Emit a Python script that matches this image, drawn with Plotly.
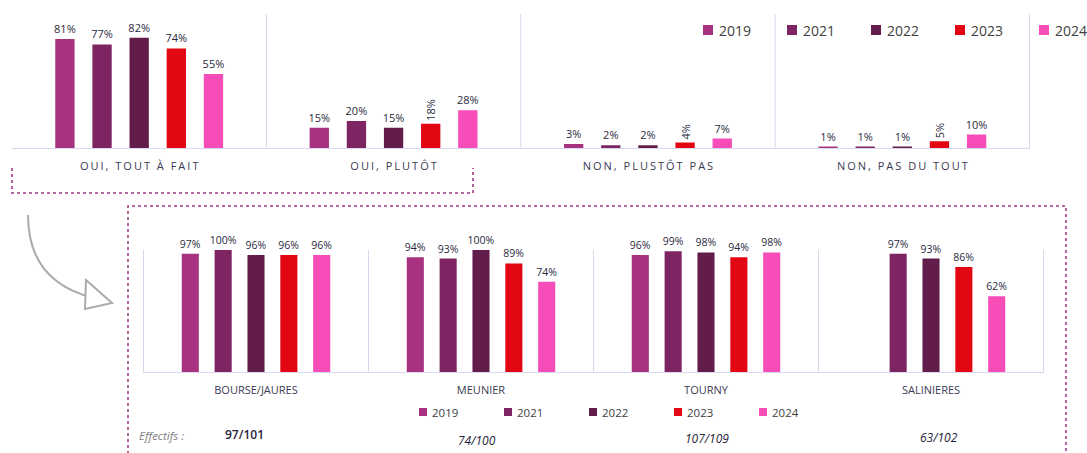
import plotly.graph_objects as go

W, H = 1087, 453

# ---------------- data ----------------
years = ["2019", "2021", "2022", "2023", "2024"]
colors = ["#A8327F", "#7E2462", "#621D4B", "#E30613", "#F64DB8"]

top_categories = ["OUI, TOUT À FAIT", "OUI, PLUTÔT", "NON, PLUSTÔT PAS", "NON, PAS DU TOUT"]
top_2019 = [81, 15, 3, 1]
top_2021 = [77, 20, 2, 1]
top_2022 = [82, 15, 2, 1]
top_2023 = [74, 18, 4, 5]
top_2024 = [55, 28, 7, 10]
top_values = [top_2019, top_2021, top_2022, top_2023, top_2024]
# labels drawn vertically in the original (only some 2023 labels)
top_2023_vertical = [False, True, True, True]

bottom_categories = ["BOURSE/JAURES", "MEUNIER", "TOURNY", "SALINIERES"]
bot_2019 = [97, 94, 96, None]
bot_2021 = [100, 93, 99, 97]
bot_2022 = [96, 100, 98, 93]
bot_2023 = [96, 89, 94, 86]
bot_2024 = [96, 74, 98, 62]
bottom_values = [bot_2019, bot_2021, bot_2022, bot_2023, bot_2024]

effectifs_label = "Effectifs :"
effectifs = ["97/101", "74/100", "107/109", "63/102"]

# ---------------- helpers ----------------
def px(x):
    return x / W


def py(y):
    return 1 - y / H


FONT = "Open Sans"
LABEL_COLOR = "#2A2A40"

fig = go.Figure()

# ---------------- top chart ----------------
for name, col, vals in zip(years, colors, top_values):
    if name == "2023":
        parts = [
            ([v if not r else None for v, r in zip(vals, top_2023_vertical)], 0),
            ([v if r else None for v, r in zip(vals, top_2023_vertical)], -90),
        ]
    else:
        parts = [(vals, 0)]
    for pv, ang in parts:
        fig.add_trace(go.Bar(
            x=top_categories, y=pv, name=name, offsetgroup=name,
            marker=dict(color=col, line=dict(width=0)),
            texttemplate="%{y}%", textposition="outside", textangle=ang,
            textfont=dict(size=11, color=LABEL_COLOR, family=FONT),
            constraintext="none", cliponaxis=False, showlegend=False,
            xaxis="x", yaxis="y",
        ))

# ---------------- bottom chart ----------------
for name, col, vals in zip(years, colors, bottom_values):
    fig.add_trace(go.Bar(
        x=bottom_categories, y=vals, name=name, offsetgroup=name,
        marker=dict(color=col, line=dict(width=0)),
        texttemplate="%{y}%", textposition="outside", textangle=0,
        textfont=dict(size=10.5, color=LABEL_COLOR, family=FONT),
        constraintext="none", cliponaxis=False, showlegend=False,
        xaxis="x2", yaxis="y2",
    ))

AXIS_LINE = "#D8D8EC"

shapes = []
# separators top
for i in range(len(top_categories)):
    shapes.append(dict(type="line", xref="x", yref="y", x0=i + 0.5, x1=i + 0.5, y0=0, y1=100,
                       line=dict(color=AXIS_LINE, width=1)))
# separators bottom
for i in range(-1, len(bottom_categories)):
    shapes.append(dict(type="line", xref="x2", yref="y2", x0=i + 0.5, x1=i + 0.5, y0=0, y1=100,
                       line=dict(color=AXIS_LINE, width=1)))

DOT = "#A23A86"
# dotted bracket under the first two top categories
shapes.append(dict(type="path", xref="paper", yref="paper",
                   path=f"M{px(12)},{py(168)} L{px(12)},{py(193)} L{px(473)},{py(193)} L{px(473)},{py(168)}",
                   line=dict(color=DOT, width=1.6, dash="dot")))
# dotted box around bottom chart
shapes.append(dict(type="path", xref="paper", yref="paper",
                   path=f"M{px(128)},{py(460)} L{px(128)},{py(206)} L{px(1066)},{py(206)} L{px(1066)},{py(452)}",
                   line=dict(color=DOT, width=1.6, dash="dot")))
# curved arrow
shapes.append(dict(type="path", xref="paper", yref="paper",
                   path=f"M{px(28)},{py(215)} Q{px(28)},{py(282)} {px(94)},{py(298)}",
                   line=dict(color="#ABABAB", width=2)))
shapes.append(dict(type="path", xref="paper", yref="paper",
                   path=f"M{px(86)},{py(280)} L{px(112)},{py(303)} L{px(85)},{py(309)} Z",
                   line=dict(color="#ABABAB", width=2), fillcolor="white"))

annotations = []
# manual legends
for i, (name, col) in enumerate(zip(years, colors)):
    x0 = 703 + 84 * i
    shapes.append(dict(type="rect", xref="paper", yref="paper",
                       x0=px(x0), x1=px(x0 + 10), y0=py(35), y1=py(25),
                       fillcolor=col, line=dict(width=0)))
    annotations.append(dict(xref="paper", yref="paper", x=px(x0 + 14), y=py(30),
                            xanchor="left", yanchor="middle", text=name, showarrow=False,
                            font=dict(size=14, color="#404040", family=FONT)))
    x1 = 419 + 85 * i
    shapes.append(dict(type="rect", xref="paper", yref="paper",
                       x0=px(x1), x1=px(x1 + 8), y0=py(416), y1=py(408),
                       fillcolor=col, line=dict(width=0)))
    annotations.append(dict(xref="paper", yref="paper", x=px(x1 + 11), y=py(412),
                            xanchor="left", yanchor="middle", text=name, showarrow=False,
                            font=dict(size=11.5, color="#404040", family=FONT)))

# effectifs row
annotations.append(dict(xref="paper", yref="paper", x=px(137), y=py(435), xanchor="left",
                        yanchor="middle", text=effectifs_label, showarrow=False,
                        font=dict(size=11.5, color="#7F7F7F", family=FONT, style="italic")))
eff_shift = [-12, -4, 1, 8]
eff_y = [434, 440, 438, 437]
for i, (cat, txt) in enumerate(zip(bottom_categories, effectifs)):
    annotations.append(dict(xref="x2", yref="paper", x=cat, y=py(eff_y[i]), xshift=eff_shift[i],
                            xanchor="center", yanchor="middle", text=txt, showarrow=False,
                            font=dict(size=12, color="#24243A", family=FONT,
                                      weight=600 if i == 0 else 400,
                                      style="normal" if i == 0 else "italic")))

fig.update_layout(
    width=W, height=H,
    margin=dict(l=0, r=0, t=0, b=0),
    paper_bgcolor="white", plot_bgcolor="white",
    barmode="group", bargap=0.27, bargroupgap=0.48,
    font=dict(family=FONT, color="#333344"),
    shapes=shapes, annotations=annotations,
    xaxis=dict(domain=[px(12), px(1030)], anchor="y", type="category",
               categoryorder="array", categoryarray=top_categories,
               showgrid=False, zeroline=False, showline=True, linecolor=AXIS_LINE, linewidth=1,
               ticks="", ticklabelstandoff=8,
               tickfont=dict(size=11, color="#3A3A52", family=FONT), fixedrange=True),
    yaxis=dict(domain=[py(148), py(13.5)], anchor="x", range=[0, 100], visible=False, fixedrange=True),
    xaxis2=dict(domain=[px(143), px(1044)], anchor="y2", type="category",
                categoryorder="array", categoryarray=bottom_categories,
                showgrid=False, zeroline=False, showline=True, linecolor=AXIS_LINE, linewidth=1,
                ticks="", ticklabelstandoff=8,
                tickfont=dict(size=11, color="#3A3A52", family=FONT), fixedrange=True),
    yaxis2=dict(domain=[py(372), py(250)], anchor="x2", range=[0, 100], visible=False, fixedrange=True),
)

post = (
    "document.body.style.margin='0';document.body.style.overflow='hidden';"
    "document.querySelectorAll('.xtick text').forEach(function(t){"
    "t.style.letterSpacing='2px';t.setAttribute('dx','1');});"
)

fig.write_html("out.html", config={"displayModeBar": False}, post_script=post)
